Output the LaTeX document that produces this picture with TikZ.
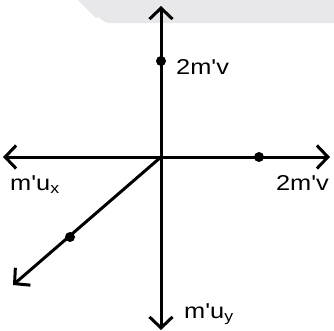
\documentclass[tikz,border=0pt]{standalone}
\usepackage{fontspec}
\setmainfont{Liberation Sans}[Ligatures=TeXOff]
\usetikzlibrary{arrows.meta}
\definecolor{panel}{HTML}{E8E8EA}
\newcommand{\wide}[1]{\scalebox{1.18}[1]{#1}}
\begin{document}
\begin{tikzpicture}[x=1pt,y=-1pt,
  axis/.style={line width=3pt,-{Straight Barb[length=11pt,width=23pt,line width=3pt]}},
  dot/.style={circle,fill=black,inner sep=0pt,minimum size=10pt},
  lbl/.style={inner sep=0pt,font=\fontsize{21.5}{23}\selectfont}]
\useasboundingbox (0,0) rectangle (334,330);
\fill[panel] (78,0) -- (96,18) to[out=45,in=180] (108,23) -- (334,23) -- (334,0) -- cycle;
\coordinate (O) at (161,157);
\coordinate (T) at (161,6);
\coordinate (B) at (161,330);
\coordinate (L) at (3,157);
\coordinate (R) at (330,157);
\coordinate (D) at (13,285);
\draw[axis] (O) -- (T);
\draw[axis] (O) -- (B);
\draw[axis] (O) -- (L);
\draw[axis] (O) -- (R);
\draw[axis] (O) -- (D);
\node[dot] (d1) at (161,61) {};
\node[dot] (d2) at (259,157) {};
\node[dot] (d3) at (70,237) {};
\node[lbl,anchor=base west] (l1) at (176,74) {\wide{2m'v}};
\node[lbl,anchor=base west] (l2) at (10,190) {\wide{m'u\textsubscript{x}}};
\node[lbl,anchor=base east] (l3) at (329,190) {\wide{2m'v}};
\node[lbl,anchor=base west] (l4) at (184,318) {\wide{m'u\textsubscript{y}}};
\end{tikzpicture}
\end{document}
